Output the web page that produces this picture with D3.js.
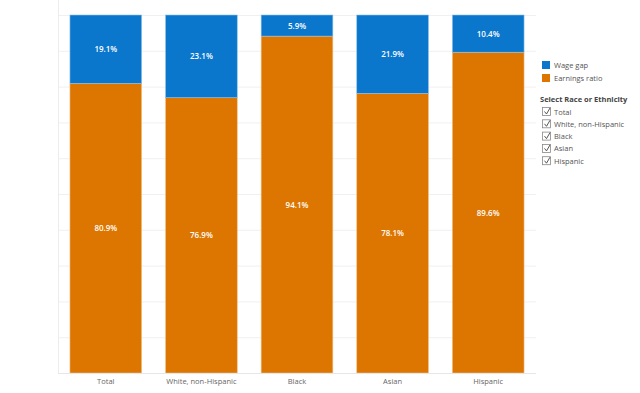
<!DOCTYPE html>
<html>
<head>
<meta charset="utf-8">
<script src="https://cdn.jsdelivr.net/npm/d3@7"></script>
<style>
  body { margin: 0; background: #fff; }
  svg text { font-family: "Open Sans", "Noto Sans", sans-serif; }
</style>
</head>
<body>
<div id="chart"></div>
<script>
var groups = ["Total", "White, non-Hispanic", "Black", "Asian", "Hispanic"];
var earningsRatio = [80.9, 76.9, 94.1, 78.1, 89.6];
var wageGap = [19.1, 23.1, 5.9, 21.9, 10.4];
var legendItems = ["Wage gap", "Earnings ratio"];
var colors = ["#0a77cc", "#dd7600"];

var svg = d3.select("#chart").append("svg")
    .attr("width", 640).attr("height", 393);

var x = d3.scaleBand().domain(groups).range([58, 536])
    .paddingInner(0.25).paddingOuter(0.125);
var y = d3.scaleLinear().domain([0, 100]).range([373, 15]);

// gridlines
svg.append("g").selectAll("line")
    .data(d3.range(10, 101, 10))
    .enter().append("line")
    .attr("x1", 58).attr("x2", 536)
    .attr("y1", function (d) { return y(d) + 0.5; })
    .attr("y2", function (d) { return y(d) + 0.5; })
    .style("stroke", "#f0f0f0");

svg.append("line")
    .attr("x1", 58.5).attr("x2", 58.5).attr("y1", 0).attr("y2", 373)
    .style("stroke", "#ececec");

// stacked bars
var rows = groups.map(function (g, i) {
    return { group: g, ratio: earningsRatio[i], gap: wageGap[i] };
});

var bars = svg.append("g").selectAll("g")
    .data(rows).enter().append("g");

bars.append("rect")
    .attr("x", function (d) { return x(d.group); })
    .attr("width", x.bandwidth())
    .attr("y", function (d) { return y(d.ratio); })
    .attr("height", function (d) { return y(0) - y(d.ratio); })
    .style("fill", colors[1])
    .style("stroke", "#f2c08a").style("stroke-width", 0.6);

bars.append("rect")
    .attr("x", function (d) { return x(d.group); })
    .attr("width", x.bandwidth())
    .attr("y", function (d) { return y(d.ratio + d.gap); })
    .attr("height", function (d) { return y(d.ratio) - y(d.ratio + d.gap); })
    .style("fill", colors[0])
    .style("stroke", "#8fc1ea").style("stroke-width", 0.6);

bars.append("text")
    .attr("x", function (d) { return x(d.group) + x.bandwidth() / 2; })
    .attr("y", function (d) { return y(d.ratio / 2) + 3; })
    .style("text-anchor", "middle").style("font-size", "8px")
    .style("font-weight", "600").style("fill", "#fff")
    .text(function (d) { return d.ratio.toFixed(1) + "%"; });

bars.append("text")
    .attr("x", function (d) { return x(d.group) + x.bandwidth() / 2; })
    .attr("y", function (d) { return y(d.ratio + d.gap / 2) + 3; })
    .style("text-anchor", "middle").style("font-size", "8px")
    .style("font-weight", "600").style("fill", "#fff")
    .text(function (d) { return d.gap.toFixed(1) + "%"; });

// baseline + category labels
svg.append("line")
    .attr("x1", 58).attr("x2", 536).attr("y1", 373.5).attr("y2", 373.5)
    .style("stroke", "#e6e6e6");

svg.append("g").selectAll("text")
    .data(groups).enter().append("text")
    .attr("x", function (d) { return x(d) + x.bandwidth() / 2; })
    .attr("y", 384)
    .style("text-anchor", "middle").style("font-size", "7.5px")
    .style("fill", "#666")
    .text(function (d) { return d; });

// legend
var leg = svg.append("g");
legendItems.forEach(function (name, i) {
    leg.append("rect")
        .attr("x", 542).attr("y", 61 + i * 13)
        .attr("width", 8).attr("height", 8)
        .style("fill", colors[i]);
    leg.append("text")
        .attr("x", 554).attr("y", 68 + i * 13)
        .style("font-size", "7.5px").style("fill", "#555")
        .text(name);
});

leg.append("text")
    .attr("x", 540).attr("y", 102)
    .style("font-size", "7.5px").style("font-weight", "bold").style("fill", "#444")
    .text("Select Race or Ethnicity");

groups.forEach(function (name, i) {
    var cy = 107 + i * 12.3;
    leg.append("rect")
        .attr("x", 542.5).attr("y", cy + 0.5)
        .attr("width", 8).attr("height", 8)
        .style("fill", "#fff").style("stroke", "#888").style("stroke-width", 0.8);
    leg.append("path")
        .attr("d", "M" + 544.5 + "," + (cy + 4.5) + " l2,2.5 l3.5,-6")
        .style("fill", "none").style("stroke", "#444").style("stroke-width", 0.9);
    leg.append("text")
        .attr("x", 554).attr("y", cy + 7.5)
        .style("font-size", "7.5px").style("fill", "#555")
        .text(name);
});
</script>
</body>
</html>
